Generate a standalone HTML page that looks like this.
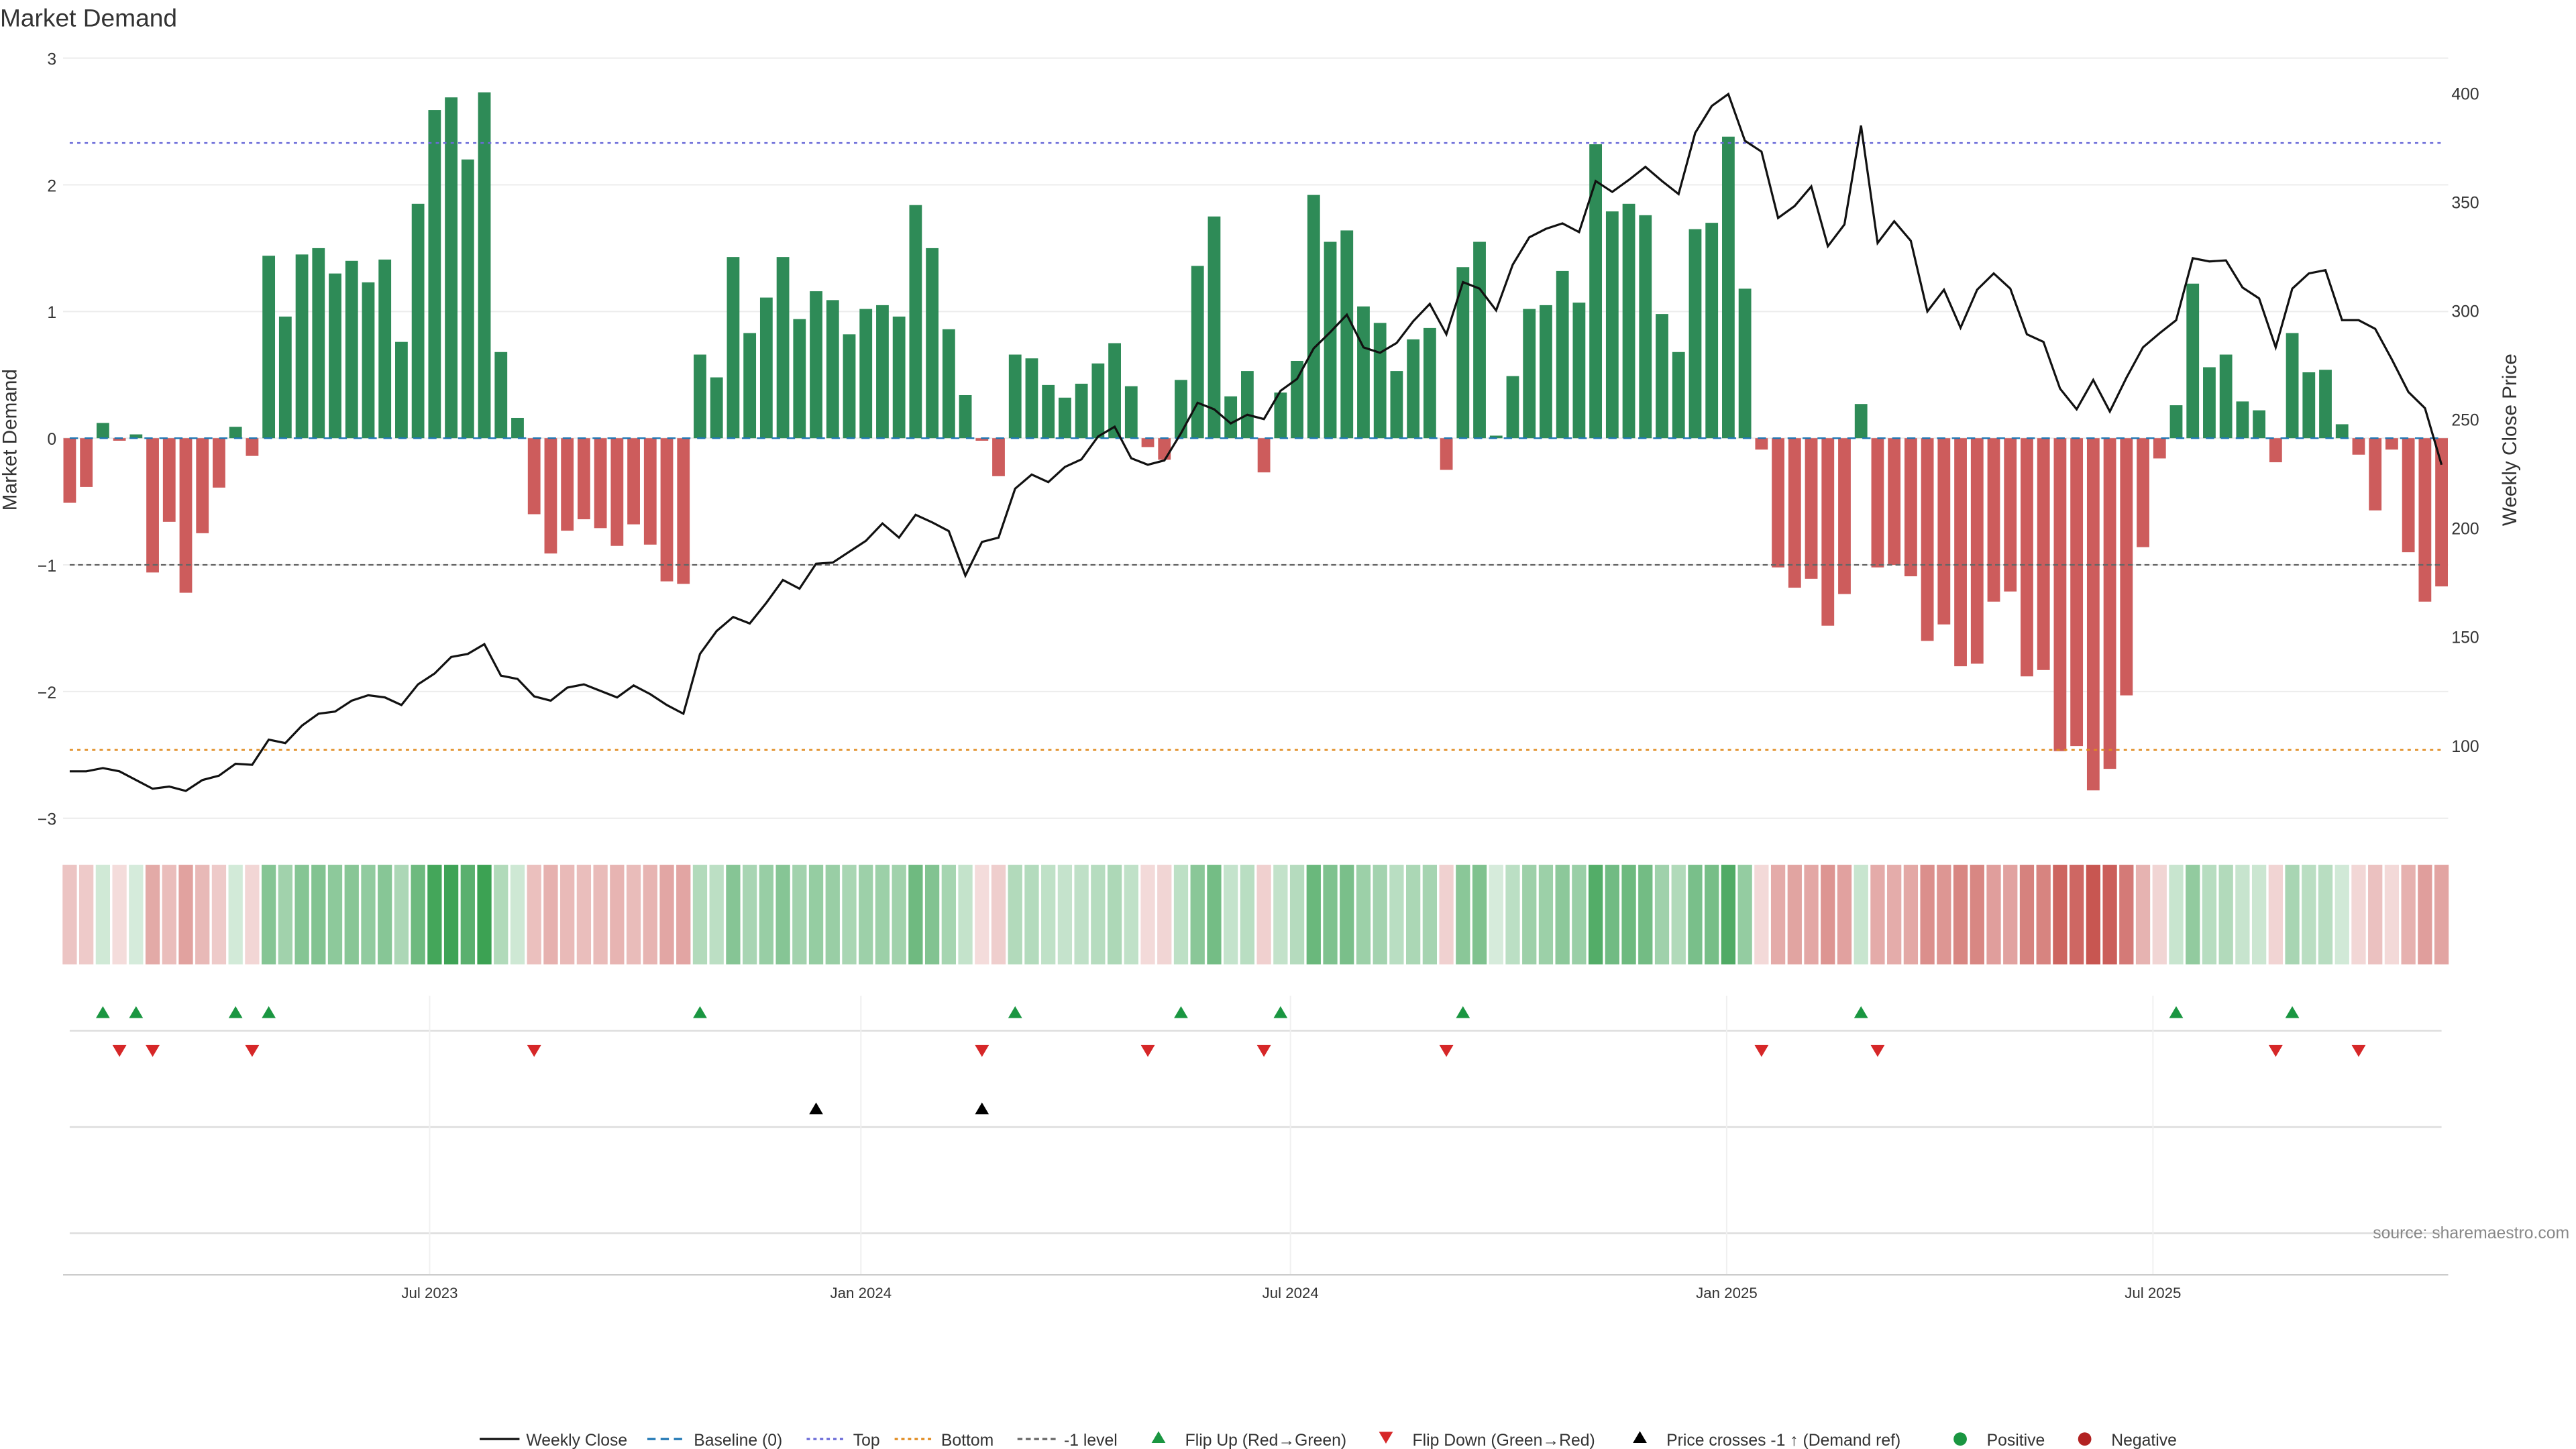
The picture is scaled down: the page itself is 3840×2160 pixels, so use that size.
<!DOCTYPE html>
<html><head><meta charset="utf-8"><style>
html,body{margin:0;padding:0;background:#fff;}
svg{display:block;font-family:"Liberation Sans","DejaVu Sans",sans-serif;}
</style></head><body>
<svg id="chart" width="3840" height="2160" viewBox="0 0 1552 873" xmlns="http://www.w3.org/2000/svg">
<rect width="1552" height="873" fill="#fff"/>
<text x="0" y="16" font-size="15" fill="#333">Market Demand</text>
<g id="grid"></g>
<g id="bars"></g>
<g id="refs"></g>
<g id="price"></g>
<g id="heat"></g>
<g id="lower"></g>
<g id="axes"></g>
<text transform="translate(10,265) rotate(-90)" text-anchor="middle" font-size="12" fill="#333">Market Demand</text>
<text transform="translate(1516,265) rotate(-90)" text-anchor="middle" font-size="12" fill="#333">Weekly Close Price</text>
<text x="1548" y="746" text-anchor="end" font-size="10" fill="#888">source: sharemaestro.com</text>
<g id="legend"></g>
</svg>
<script>
const demand=[-0.51,-0.385,0.12,-0.02,0.03,-1.06,-0.66,-1.22,-0.75,-0.39,0.09,-0.14,1.44,0.96,1.45,1.50,1.30,1.40,1.23,1.41,0.76,1.85,2.59,2.69,2.20,2.73,0.68,0.16,-0.60,-0.91,-0.73,-0.64,-0.71,-0.85,-0.68,-0.84,-1.13,-1.15,0.66,0.48,1.43,0.83,1.11,1.43,0.94,1.16,1.09,0.82,1.02,1.05,0.96,1.84,1.50,0.86,0.34,-0.02,-0.30,0.66,0.63,0.42,0.32,0.43,0.59,0.75,0.41,-0.07,-0.17,0.46,1.36,1.75,0.33,0.53,-0.27,0.36,0.61,1.92,1.55,1.64,1.04,0.91,0.53,0.78,0.87,-0.25,1.35,1.55,0.02,0.49,1.02,1.05,1.32,1.07,2.32,1.79,1.85,1.76,0.98,0.68,1.65,1.70,2.38,1.18,-0.09,-1.02,-1.18,-1.11,-1.48,-1.23,0.27,-1.02,-1.00,-1.09,-1.60,-1.47,-1.80,-1.78,-1.29,-1.21,-1.88,-1.83,-2.47,-2.43,-2.78,-2.61,-2.03,-0.86,-0.16,0.26,1.22,0.56,0.66,0.29,0.22,-0.19,0.83,0.52,0.54,0.11,-0.13,-0.57,-0.09,-0.90,-1.29,-1.17];
const price=[88,88,89.5,88,84,80,81,79,84,86,91.5,91,102.6,101,109,114.5,115.5,120.5,123,122,118.5,128,133,140.6,142,146.5,132,130.5,122.5,120.5,126.5,128,125,122,127.5,123.5,118.5,114.5,142,152.5,159,156,165.5,176,172,183.5,184,189,194,202,195.5,206,202.5,198.5,178,193.5,195.5,218,224.5,221,228,231.5,242,246.5,232,229,231,243.5,257.5,254.5,248,252,250,263,268.5,282.5,290,298,283,280.5,285,295,303,289,313,310,300,321,333.6,337.5,340,336,359.5,354.5,360,366,359.5,353.5,381.6,394,399.5,378,373,342.5,348,357,329.5,339.5,385,331,341,332,299.5,309.5,292,309.5,317,310,289,285.5,264,254.5,268,253.5,269,283,289.5,295.5,324,322.5,323,310.5,305.5,283,310,317,318.5,295.5,295.5,291.5,277.5,262.5,255,229];
const leftTicks=[3,2,1,0,-1,-2,-3];
const rightTicks=[100,150,200,250,300,350,400];
const dateTicks=["Jul 2023","Jan 2024","Jul 2024","Jan 2025","Jul 2025"];
const dateTickWeek=[21.7,47.7,73.6,99.9,125.6];
const levels=[2.33,-2.46,-1];

const NS="http://www.w3.org/2000/svg";
const N=demand.length;
const X0=42,X1=1471;
const xw=i=>X0+i*(X1-X0)/(N-1);
const yL=v=>264-v*76.33;
const yR=p=>56+(400-p)*1.31;
function mk(parent,tag,attrs){const e=document.createElementNS(NS,tag);for(const k in attrs)e.setAttribute(k,attrs[k]);document.getElementById(parent).appendChild(e);return e;}

// grid & ticks
leftTicks.forEach(t=>{
  const g=mk('grid','line',{x1:38,x2:1475,y1:yL(t),y2:yL(t),stroke:'#ececec','stroke-width':0.8});
  
  
  const tx=mk('axes','text',{x:34,y:yL(t)+4,'text-anchor':'end','font-size':10,fill:'#333'});
  tx.textContent=t<0?'\u2212'+Math.abs(t):String(t);
  
  
});
rightTicks.forEach(t=>{
  const tx=mk('axes','text',{x:1477,y:yR(t)+4,'font-size':10,fill:'#333'});
  tx.textContent=String(t);
  
  
});
// bars
demand.forEach((v,i)=>{
  const y=Math.min(yL(0),yL(v)),h=Math.abs(yL(v)-yL(0));
  const r=mk('bars','rect',{x:xw(i)-3.8,y:y,width:7.6,height:Math.max(h,0.6),fill:v>=0?'#2e8b57':'#cd5c5c'});
  
  
});
// reference lines
const lc=['#6a6ad8','#e08a1e','#666'];
const ld=['2,2.5','2,2.5','3,2'];
levels.forEach((lv,k)=>{
  const l=mk('refs','line',{x1:42,x2:1471,y1:yL(lv),y2:yL(lv),stroke:lc[k],'stroke-width':1,'stroke-dasharray':ld[k]});
  
  
});
const bl=mk('refs','line',{x1:42,x2:1471,y1:yL(0),y2:yL(0),stroke:'#1f77b4','stroke-width':1,'stroke-dasharray':'5,4'});


// price line
const pl=mk('price','polyline',{points:price.map((p,i)=>xw(i)+','+yR(p)).join(' '),fill:'none',stroke:'#111','stroke-width':1.3});


// heat strip
function mix(c,t){const w=[255,255,255];return 'rgb('+c.map((v,j)=>Math.round(w[j]+(v-w[j])*t)).join(',')+')';}
demand.forEach((v,i)=>{
  const t=0.2+0.8*Math.min(Math.abs(v)/2.8,1);
  const c=mix(v>=0?[56,160,80]:[200,85,80],t);
  const r=mk('heat','rect',{x:xw(i)-4.3,y:521,width:8.6,height:60,fill:c});
  
  
});
// lower panels
[621,679,743].forEach(y=>{
  const l=mk('lower','line',{x1:42,x2:1471,y1:y,y2:y,stroke:'#ddd','stroke-width':1});
  
  
});
dateTicks.forEach((d,k)=>{
  const x=xw(dateTickWeek[k]);
  const g=mk('lower','line',{x1:x,x2:x,y1:600,y2:768,stroke:'#f0f0f0','stroke-width':0.8});
  
  
  const tx=mk('axes','text',{x:x,y:782,'text-anchor':'middle','font-size':9,fill:'#333'});
  tx.textContent=d;
  
  
});
const ax=mk('axes','line',{x1:38,x2:1475,y1:768,y2:768,stroke:'#ccc','stroke-width':1});


function tri(g,x,y,up,c){const s=4.2;const p=up?`${x-s},${y+s*0.8} ${x+s},${y+s*0.8} ${x},${y-s*0.9}`:`${x-s},${y-s*0.8} ${x+s},${y-s*0.8} ${x},${y+s*0.9}`;return mk(g,'polygon',{points:p,fill:c});}
for(let i=1;i<N;i++){
  if(demand[i-1]<0&&demand[i]>=0){const t=tri('lower',xw(i),610,true,'#1a9641');
    
    }
  if(demand[i-1]>=0&&demand[i]<0){const t=tri('lower',xw(i),633,false,'#d62728');
    
    }
  const th=400-(yL(-1)-56)/1.31;
  if(price[i-1]<th&&price[i]>=th){const t=tri('lower',xw(i),668,true,'#000');
    
    }
}
// legend
const L=[
 ['line',289,'Weekly Close','#111',''],['line',390,'Baseline (0)','#1f77b4','5,3'],['line',486,'Top','#6a6ad8','2,2'],
 ['line',539,'Bottom','#e08a1e','2,2'],['line',613,'-1 level','#666','3,2'],['tri',698,'Flip Up (Red\u2192Green)','#1a9641'],
 ['tri',835,'Flip Down (Green\u2192Red)','#d62728'],['tri',988,'Price crosses -1 \u2191 (Demand ref)','#000'],
 ['dot',1181,'Positive','#1a9641'],['dot',1256,'Negative','#b22222']];
L.forEach(e=>{
  let tx;
  if(e[0]==='line'){const l=mk('legend','line',{x1:e[1],x2:e[1]+24,y1:867,y2:867,stroke:e[3],'stroke-width':1.3,'stroke-dasharray':e[4]});
    
    
    tx=mk('legend','text',{x:e[1]+28,y:871,'font-size':10,fill:'#333'});}
  else if(e[0]==='tri'){const t=tri('legend',e[1],866,e[2].indexOf('Down')<0,e[3]);
    
    
    tx=mk('legend','text',{x:e[1]+16,y:871,'font-size':10,fill:'#333'});}
  else{const c=mk('legend','circle',{cx:e[1],cy:867,r:4,fill:e[3]});
    
    
    tx=mk('legend','text',{x:e[1]+16,y:871,'font-size':10,fill:'#333'});}
  tx.textContent=e[2];
  
  
});
</script>
</body></html>
